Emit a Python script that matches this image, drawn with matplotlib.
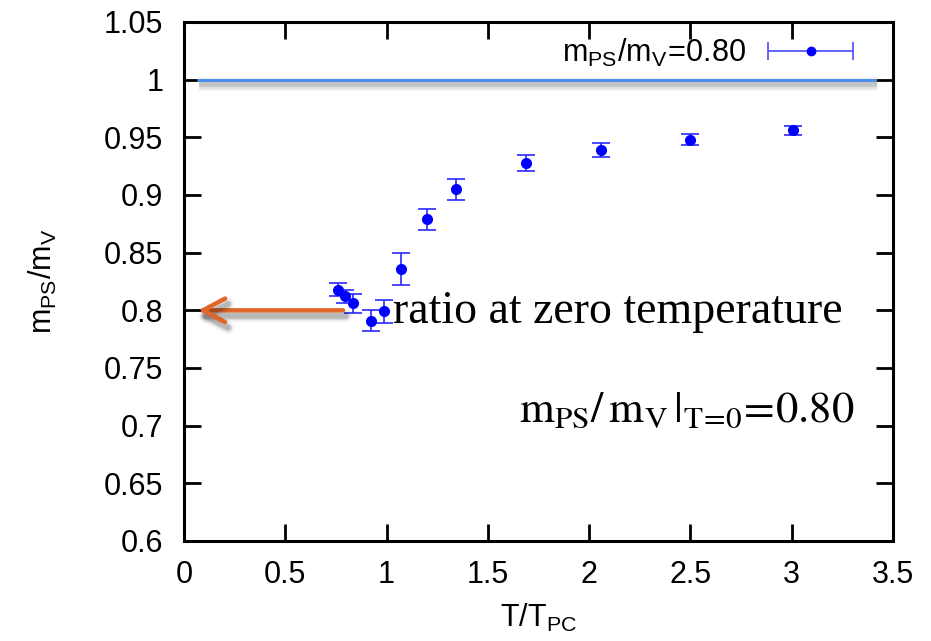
import numpy as np
import matplotlib
matplotlib.use("Agg")
import matplotlib.pyplot as plt
import matplotlib.patheffects as pe
from matplotlib.legend_handler import HandlerErrorbar

plt.rcParams['font.family'] = ['Liberation Sans', 'DejaVu Sans']
plt.rcParams['mathtext.fontset'] = 'custom'
plt.rcParams['mathtext.rm'] = 'Liberation Sans'
plt.rcParams['mathtext.it'] = 'Liberation Sans:italic'

# screening mass ratio vs T/T_pc
t_ratio = [0.76, 0.795, 0.835, 0.925, 0.985, 1.07, 1.2, 1.345, 1.69, 2.06, 2.5, 3.005]
mass_ratio = [0.818, 0.812, 0.806, 0.791, 0.799, 0.836, 0.879, 0.905, 0.928, 0.939, 0.948, 0.956]
mass_err = [0.006, 0.006, 0.008, 0.009, 0.010, 0.014, 0.009, 0.009, 0.007, 0.006, 0.005, 0.004]

zero_t_value = 0.80
free_limit = 1.0
limit_span = [0.065, 3.415]
arrow_span = [0.785, 0.07]

xticks = [0, 0.5, 1, 1.5, 2, 2.5, 3, 3.5]
xticklabels = ['0', '0.5', '1', '1.5', '2', '2.5', '3', '3.5']
yticks = [0.6, 0.65, 0.7, 0.75, 0.8, 0.85, 0.9, 0.95, 1.0, 1.05]
yticklabels = ['0.6', '0.65', '0.7', '0.75', '0.8', '0.85', '0.9', '0.95', '1', '1.05']

fig = plt.figure(figsize=(9.31, 6.41), dpi=100)
ax = fig.add_axes([184 / 931, 100 / 641, 709 / 931, 519 / 641])

# free-theory limit, with a soft drop shadow
shadow = [pe.SimpleLineShadow(offset=(1, -3), shadow_color='k', alpha=a, linewidth=w)
          for a, w in [(0.05, 10), (0.08, 6.5), (0.12, 4)]]
ax.plot(limit_span, [free_limit, free_limit], color='#4d8ef0', lw=2.2,
        solid_capstyle='butt', path_effects=shadow + [pe.Normal()], zorder=2)

ax.errorbar(t_ratio, mass_ratio, yerr=mass_err, fmt='o', color='#0000ff',
            ms=7, ecolor='#2a2aff', elinewidth=1.2, capsize=6.5, capthick=1.2,
            zorder=3)

# legend sample uses a horizontal error bar, text on the left
proxy = ax.errorbar([np.nan], [np.nan], xerr=[np.nan], fmt='o', color='#0000ff', ms=6,
                    ecolor='#4a4aff', elinewidth=1.2, capsize=6.5, capthick=1.2,
                    label=r'$\mathrm{m_{PS}/m_V\!=\!0.80}$')
leg = ax.legend(handles=[proxy], loc='center right', bbox_to_anchor=(0.944, 0.941),
                frameon=False, markerfirst=False, fontsize=22, handlelength=2.8,
                handletextpad=0.7, borderpad=0, borderaxespad=0,
                handler_map={type(proxy): HandlerErrorbar(xerr_size=1.4)})

# arrow pointing at the zero-temperature ratio
arrow_shadow = [pe.SimpleLineShadow(offset=(2, -4), shadow_color='k', alpha=a, linewidth=w)
                for a, w in [(0.06, 9), (0.10, 6), (0.14, 4)]]
ax.annotate('', xy=(arrow_span[1], zero_t_value), xytext=(arrow_span[0], zero_t_value),
            arrowprops=dict(arrowstyle='->, head_length=1.6, head_width=0.85',
                            mutation_scale=10, color='#e0662a', lw=3.2,
                            capstyle='round', joinstyle='round', shrinkA=0, shrinkB=0,
                            path_effects=arrow_shadow + [pe.Normal()]),
            zorder=4)

ax.text(1.03, 0.789, 'ratio at zero temperature', fontsize=33,
        family=['Liberation Serif', 'DejaVu Serif'], va='baseline', ha='left', zorder=5)
ax.text(3.312, 0.7035, r'$\mathrm{m_{PS}/\,m_V\,|_{T\!=\!0}\!=\!0.80}$', fontsize=32,
        math_fontfamily='stix', va='baseline', ha='right', zorder=5)

ax.set_xlim(0, 3.5)
ax.set_ylim(0.6, 1.05)
ax.set_xticks(xticks)
ax.set_xticklabels(xticklabels)
ax.set_yticks(yticks)
ax.set_yticklabels(yticklabels)
ax.tick_params(direction='in', length=12, width=2, labelsize=22, top=True, right=True)
ax.tick_params(axis='y', pad=15)
ax.tick_params(axis='x', pad=14)
for s in ax.spines.values():
    s.set_linewidth(2.2)

ax.set_xlabel(r'$\mathrm{T/T_{PC}}$', fontsize=22, labelpad=8)
ax.set_ylabel(r'$\mathrm{m_{PS}/m_V}$', fontsize=22, labelpad=32)

fig.savefig('out.png', dpi=100)
